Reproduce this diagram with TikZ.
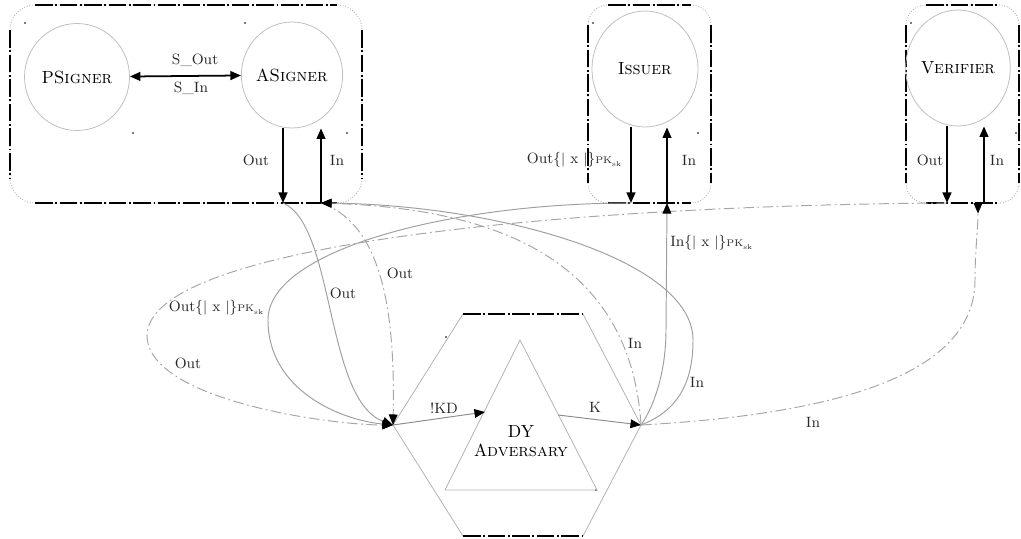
\documentclass[tikz,border=0pt]{standalone}
\usetikzlibrary{arrows.meta,shapes.geometric,calc}

% party frame: dotted rounded outline, heavy dashed straight sides
% #1,#2 = top-left, #3,#4 = bottom-right, #5 = corner inset, #6 = corner radius
\newcommand\partybox[6]{%
  \draw[frame,rounded corners=#6] (#1,#2) rectangle (#3,#4);
  \draw[rim] ({#1+#5},#2) -- ({#3-#5},#2);
  \draw[rim] ({#1+#5},#4) -- ({#3-#5},#4);
  \draw[rim] (#1,{#2+#5}) -- (#1,{#4-#5});
  \draw[rim] (#3,{#2+#5}) -- (#3,{#4-#5});
}

\begin{document}
\begin{tikzpicture}[x=0.02cm,y=-0.02cm,
  actor/.style={ellipse,draw=gray!50,line width=0.45pt,inner sep=0pt,
    font=\fontsize{10}{12}\selectfont},
  frame/.style={draw=gray!60,densely dotted,line width=0.5pt},
  rim/.style={draw=black,line width=1.1pt,
    dash pattern=on 10pt off 1.5pt on 1pt off 1.5pt},
  port/.style={draw=black,line width=1pt,-{Triangle[length=6pt,width=5pt]}},
  wire/.style={draw=gray!75,line width=0.55pt},
  dashwire/.style={draw=gray!70,line width=0.55pt,
    dash pattern=on 6pt off 2pt on 1pt off 2pt},
  tip/.style={-{Triangle[length=6pt,width=5pt,color=black]}},
  lbl/.style={font=\fontsize{8.5}{10}\selectfont,inner sep=0pt,text=black!85},
  hexside/.style={draw=gray!60,line width=0.45pt},
  speck/.style={fill=black!70}
]
\useasboundingbox (0,0) rectangle (1021,538);

% ---- parties -------------------------------------------------------
\partybox{10}{5}{362}{203}{25}{0.5cm}
\partybox{588}{5}{711}{203}{20}{0.4cm}
\partybox{906}{5}{1019}{203}{20}{0.4cm}

\node[actor,minimum width=2.1cm,minimum height=2.14cm] (psigner) at (77,77) {P\textsc{Signer}};
\node[actor,minimum width=2.0cm,minimum height=2.12cm] (asigner) at (292,75) {A\textsc{Signer}};
\node[actor,minimum width=2.12cm,minimum height=2.32cm] (issuer) at (645,69) {I\textsc{ssuer}};
\node[actor,minimum width=2.0cm,minimum height=2.32cm] (verifier) at (958,68) {V\textsc{erifier}};

% small anchor specks
\foreach \p in {(25,23),(245,23),(133,133),(347,133),(593,23),(698,133),
                (911,23),(1016,133),(446,337),(596,490)}
  \fill[speck] \p circle[radius=0.6pt];

% signer link
\draw[port,{Triangle[length=6pt,width=5pt]}-{Triangle[length=6pt,width=5pt]}]
  (psigner) -- (asigner);
\node[lbl] (sout) at (195,60) {S\_Out};
\node[lbl] (sin) at (191,88) {S\_In};

% interface points on the frame bottoms
\coordinate (aob) at (283,203);
\coordinate (aib) at (321,203);
\coordinate (iob) at (631,203);
\coordinate (iib) at (667,203);
\coordinate (vob) at (947,203);
\coordinate (vib) at (984,203);
\coordinate (vin) at (978,203);

\draw[port] (asigner.south -| aob) -- (aob);
\draw[port] (aib) -- (asigner.south -| aib);
\draw[port] (issuer.south -| iob) -- (iob);
\draw[port] (iib) -- (issuer.south -| iib);
\draw[port] (verifier.south -| vob) -- (vob);
\draw[port] (vib) -- (verifier.south -| vib);

\node[lbl] (aoutl) at (256,160) {Out};
\node[lbl] (ainl) at (337,160) {In};
\node[lbl] (ioutl) at (574,160) {Out\{$|$ x $|$\}{\fontsize{5.5}{6}\selectfont PK}\raisebox{-1.5pt}{\fontsize{4}{5}\selectfont sk}};
\node[lbl] (iinl) at (689,160) {In};
\node[lbl] (voutl) at (930,160) {Out};
\node[lbl] (vinl) at (997,160) {In};

% ---- adversary -----------------------------------------------------
\coordinate (L) at (393,425);
\coordinate (R) at (641,425);
\coordinate (htl) at (463,314);
\coordinate (htr) at (583,314);
\coordinate (hbl) at (463,536);
\coordinate (hbr) at (583,536);
\draw[hexside] (htl) -- (L) -- (hbl);
\draw[hexside] (htr) -- (R) -- (hbr);
\draw[rim] (htl) -- (htr);
\draw[rim] (hbl) -- (hbr);

\coordinate (ta) at (520,340);
\coordinate (tl) at (445,490);
\coordinate (tr) at (597,490);
\draw[hexside] (ta) -- (tl) -- (tr) -- cycle;
\node[align=center,font=\fontsize{10}{11}\selectfont,inner sep=0pt] (dy) at (521,441)
  {DY\\A\textsc{dversary}};

\coordinate (kdin) at (485,412);
\coordinate (kout) at (558,415);
\draw[wire,draw=gray!90,tip] (L) -- (kdin);
\draw[wire,draw=gray!90,tip] (kout) -- (R);
\node[lbl] (kdl) at (444,408) {!KD};
\node[lbl] (kl) at (595,407) {K};

% ---- outputs towards the adversary ---------------------------------
\draw[wire,tip] (aob) .. controls (335,225) and (325,400) .. (L);
\draw[dashwire,tip] (aib) .. controls (385,225) and (395,320) .. (L);
\draw[wire,tip] (iob) .. controls (450,203) and (268,250) .. (268,320)
  .. controls (268,390) and (340,420) .. (L);
\draw[dashwire,tip] (vob) .. controls (600,205) and (150,240) .. (147,335)
  .. controls (147,400) and (330,425) .. (L);

\node[lbl] (o1) at (343,293) {Out};
\node[lbl] (o2) at (400,273) {Out};
\node[lbl] (o3) at (216,308) {Out\{$|$ x $|$\}{\fontsize{5.5}{6}\selectfont PK}\raisebox{-1.5pt}{\fontsize{4}{5}\selectfont sk}};
\node[lbl] (o4) at (188,363) {Out};

% ---- inputs from the adversary -------------------------------------
\draw[wire,tip] (R) .. controls (680,410) and (693,380) .. (693,340)
  .. controls (693,260) and (500,205) .. (aib);
\draw[dashwire,tip] (R) .. controls (630,250) and (480,208) .. (aib);
\draw[wire,tip] (R) .. controls (655,405) and (666,370) .. (666,330) -- (iib);
\draw[dashwire,-{Triangle[length=6pt,width=5pt,color=black,reversed]}]
  (R) .. controls (820,415) and (975,380) .. (975,280)
  .. controls (975,250) and (978,230) .. (vin);

\node[lbl] (i1) at (635,343) {In};
\node[lbl] (i2) at (697,382) {In};
\node[lbl,anchor=west] (i3) at (670,243) {In\{$|$ x $|$\}{\fontsize{5.5}{6}\selectfont PK}\raisebox{-1.5pt}{\fontsize{4}{5}\selectfont sk}};
\node[lbl] (i4) at (813,422) {In};

\end{tikzpicture}
\end{document}
